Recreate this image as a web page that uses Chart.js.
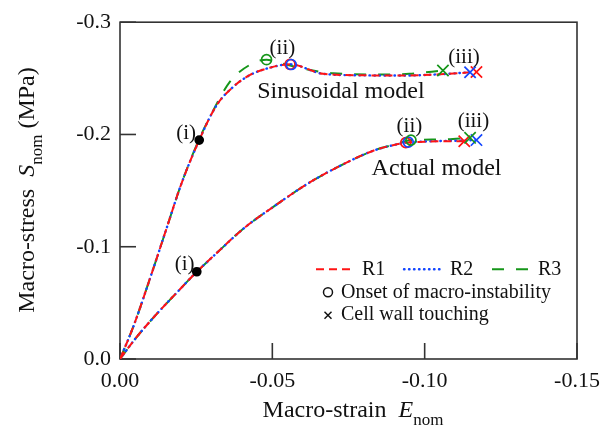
<!DOCTYPE html>
<html>
<head>
<meta charset="utf-8">
<script src="https://cdn.jsdelivr.net/npm/chart.js@4.4.1/dist/chart.umd.min.js"></script>
<style>
  html, body { margin: 0; padding: 0; background: #fff; }
  #wrap { width: 614px; height: 441px; }
</style>
</head>
<body>
<div id="wrap"><canvas id="chart" width="614" height="441"></canvas></div>
<script>
// curvas (deformacion / tension nominal, valores negativos = compresion)
const sinR1Strain = [0, -0.0044, -0.010, -0.015, -0.020, -0.026, -0.0317, -0.0372, -0.0427, -0.0492, -0.0558, -0.0667, -0.0797, -0.094, -0.105, -0.117];
const sinR1Stress = [0, -0.029, -0.073, -0.114, -0.155, -0.195, -0.226, -0.2425, -0.253, -0.2595, -0.2625, -0.254, -0.2527, -0.2525, -0.2536, -0.2557];
const sinR2Strain = [0, -0.0044, -0.010, -0.015, -0.020, -0.026, -0.0317, -0.0372, -0.0427, -0.0492, -0.0558, -0.0667, -0.0797, -0.094, -0.105, -0.1149];
const sinR2Stress = [0, -0.029, -0.073, -0.114, -0.155, -0.195, -0.226, -0.2425, -0.253, -0.2595, -0.2625, -0.254, -0.2527, -0.2525, -0.2536, -0.2554];
const sinR3Strain = [0, -0.0044, -0.010, -0.015, -0.020, -0.026, -0.0296, -0.0361, -0.0438, -0.0481, -0.0525, -0.058, -0.07, -0.085, -0.095, -0.106];
const sinR3Stress = [0, -0.029, -0.073, -0.114, -0.155, -0.196, -0.216, -0.247, -0.2637, -0.2666, -0.2637, -0.26, -0.2545, -0.2535, -0.254, -0.257];

const actR1Strain = [0, -0.005, -0.012, -0.0186, -0.0252, -0.0312, -0.0406, -0.0503, -0.0624, -0.0722, -0.0831, -0.0908, -0.0938, -0.1, -0.105, -0.113];
const actR1Stress = [0, -0.018, -0.040, -0.059, -0.0777, -0.093, -0.1163, -0.1355, -0.1575, -0.172, -0.1855, -0.1912, -0.1927, -0.1935, -0.194, -0.194];
const actR2Strain = [0, -0.005, -0.012, -0.0186, -0.0252, -0.0312, -0.0406, -0.0503, -0.0624, -0.0722, -0.0831, -0.0908, -0.0946, -0.1, -0.105, -0.111, -0.117];
const actR2Stress = [0, -0.018, -0.040, -0.059, -0.0777, -0.093, -0.1163, -0.1355, -0.1575, -0.172, -0.1855, -0.1912, -0.1932, -0.1937, -0.1942, -0.1945, -0.195];
const actR3Strain = [0, -0.005, -0.012, -0.0186, -0.0252, -0.0312, -0.0406, -0.0503, -0.0624, -0.0722, -0.0831, -0.0908, -0.0955, -0.105, -0.1149];
const actR3Stress = [0, -0.018, -0.040, -0.059, -0.0777, -0.093, -0.1163, -0.1355, -0.1575, -0.172, -0.1855, -0.1915, -0.195, -0.1955, -0.197];

// (ii) inicio de inestabilidad: [sinusoidal, actual]
const onsetStrainR1 = [-0.0558, -0.0938];
const onsetStressR1 = [-0.2625, -0.1927];
const onsetStrainR2 = [-0.0562, -0.0946];
const onsetStressR2 = [-0.2623, -0.1932];
const onsetStrainR3 = [-0.0481, -0.0955];
const onsetStressR3 = [-0.2666, -0.195];

// (iii) contacto de paredes
const touchStrainR1 = [-0.117, -0.113];
const touchStressR1 = [-0.2557, -0.194];
const touchStrainR2 = [-0.1149, -0.117];
const touchStressR2 = [-0.2554, -0.195];
const touchStrainR3 = [-0.106, -0.1149];
const touchStressR3 = [-0.257, -0.197];

// (i) puntos negros
const pointIStrain = [-0.026, -0.0252];
const pointIStress = [-0.195, -0.0777];

const xTicks = [0, -0.05, -0.10, -0.15];
const yTicks = [0, -0.1, -0.2, -0.3];

const RED = '#ff1414', BLUE = '#1446ff', GREEN = '#16961a';
const DASH = { R1: [8, 5], R2: [0.5, 4.5], R3: [12, 12] };
const SERIF = '"Liberation Serif", "Times New Roman", serif';

function pts(xs, ys) { return xs.map((v, i) => ({ x: v, y: ys[i] })); }

function curve(label, xs, ys, color, order) {
  return {
    label, data: pts(xs, ys), borderColor: color, borderWidth: label === 'R2' ? 2.4 : 2,
    borderDash: DASH[label], borderCapStyle: label === 'R2' ? 'round' : 'butt',
    pointRadius: 0, showLine: true, fill: false, cubicInterpolationMode: 'monotone', order
  };
}
function marks(xs, ys, color, style, r, fillColor) {
  return {
    data: pts(xs, ys), showLine: false, pointStyle: style, pointRadius: r,
    pointBorderColor: color, pointBackgroundColor: fillColor || 'rgba(0,0,0,0)',
    pointBorderWidth: 1.7, order: 0
  };
}

const datasets = [
  curve('R1', sinR1Strain, sinR1Stress, RED, 1),
  curve('R2', sinR2Strain, sinR2Stress, BLUE, 2),
  curve('R3', sinR3Strain, sinR3Stress, GREEN, 3),
  curve('R1', actR1Strain, actR1Stress, RED, 1),
  curve('R2', actR2Strain, actR2Stress, BLUE, 2),
  curve('R3', actR3Strain, actR3Stress, GREEN, 3),
  marks(onsetStrainR3, onsetStressR3, GREEN, 'circle', 5),
  marks(onsetStrainR2, onsetStressR2, BLUE, 'circle', 5),
  marks(onsetStrainR1, onsetStressR1, RED, 'circle', 5),
  marks(touchStrainR3, touchStressR3, GREEN, 'crossRot', 8),
  marks(touchStrainR2, touchStressR2, BLUE, 'crossRot', 8),
  marks(touchStrainR1, touchStressR1, RED, 'crossRot', 8),
  marks(pointIStrain, pointIStress, '#000', 'circle', 4, '#000')
];

// textos sobre el grafico (en coordenadas de datos)
const notes = [
  { t: '(i)', x: -0.0217, y: -0.2006, size: 21 },
  { t: '(ii)', x: -0.0533, y: -0.2762, size: 21 },
  { t: 'Sinusoidal model', x: -0.0725, y: -0.2384, size: 24 },
  { t: '(iii)', x: -0.1129, y: -0.2689, size: 21 },
  { t: '(i)', x: -0.0212, y: -0.0842, size: 21 },
  { t: '(ii)', x: -0.095, y: -0.2074, size: 21 },
  { t: '(iii)', x: -0.116, y: -0.2118, size: 21 },
  { t: 'Actual model', x: -0.1039, y: -0.1692, size: 24 }
];

function line(ctx, x1, y1, x2, y2) {
  ctx.beginPath(); ctx.moveTo(x1, y1); ctx.lineTo(x2, y2); ctx.stroke();
}

// dibuja texto con subindice; devuelve ancho
function richText(ctx, parts, x, y, draw) {
  let w = 0;
  for (const p of parts) {
    ctx.font = (p.italic ? 'italic ' : '') + p.size + 'px ' + SERIF;
    if (draw) ctx.fillText(p.t, x + w, y + (p.dy || 0));
    w += ctx.measureText(p.t).width;
  }
  return w;
}

const decor = {
  id: 'decor',
  beforeDatasetsDraw(chart) {
    const { ctx, chartArea: a, scales: { x, y } } = chart;
    ctx.save();
    ctx.strokeStyle = '#333';
    ctx.lineWidth = 1.6;
    ctx.strokeRect(a.left, a.top, a.right - a.left, a.bottom - a.top);
    x.ticks.forEach(t => { const p = x.getPixelForValue(t.value); line(ctx, p, a.bottom, p, a.bottom - 16); });
    y.ticks.forEach(t => { const p = y.getPixelForValue(t.value); line(ctx, a.left, p, a.left + 16, p); });
    ctx.restore();
  },
  afterDraw(chart) {
    const { ctx, chartArea: a, scales: { x, y } } = chart;
    ctx.save();
    ctx.fillStyle = '#111';
    ctx.textBaseline = 'middle';
    ctx.textAlign = 'center';
    notes.forEach(n => {
      ctx.font = n.size + 'px ' + SERIF;
      ctx.fillText(n.t, x.getPixelForValue(n.x), y.getPixelForValue(n.y));
    });

    // leyenda
    ctx.textAlign = 'left';
    const lx = a.left + 196, ly = a.top + 247;
    [[RED, 'R1', 2, 'butt'], [BLUE, 'R2', 2.4, 'round'], [GREEN, 'R3', 2, 'butt']].forEach((e, i) => {
      const sx = lx + i * 88;
      ctx.strokeStyle = e[0]; ctx.setLineDash(DASH[e[1]]);
      ctx.lineWidth = e[2]; ctx.lineCap = e[3];
      line(ctx, sx, ly, sx + 38, ly);
      ctx.setLineDash([]); ctx.lineCap = 'butt';
      ctx.font = '20px ' + SERIF;
      ctx.fillText(e[1], sx + 46, ly + 1);
    });
    ctx.strokeStyle = '#111'; ctx.lineWidth = 1.5;
    ctx.beginPath(); ctx.arc(lx + 12, ly + 23, 4.5, 0, Math.PI * 2); ctx.stroke();
    ctx.fillText('Onset of macro-instability', lx + 25, ly + 24);
    line(ctx, lx + 8.5, ly + 42.5, lx + 15.5, ly + 49.5);
    line(ctx, lx + 15.5, ly + 42.5, lx + 8.5, ly + 49.5);
    ctx.fillText('Cell wall touching', lx + 25, ly + 46);

    // titulos de ejes
    ctx.textBaseline = 'alphabetic';
    const xt = [
      { t: 'Macro-strain  ', size: 24 },
      { t: 'E', size: 24, italic: true },
      { t: 'nom', size: 17, dy: 8 }
    ];
    const xw = richText(ctx, xt, 0, 0, false);
    richText(ctx, xt, 353 - xw / 2, 417, true);

    const yt = [
      { t: 'Macro-stress  ', size: 24 },
      { t: 'S', size: 24, italic: true },
      { t: 'nom', size: 17, dy: 8 },
      { t: ' (MPa)', size: 24 }
    ];
    const yw = richText(ctx, yt, 0, 0, false);
    ctx.translate(34, 190);
    ctx.rotate(-Math.PI / 2);
    richText(ctx, yt, -yw / 2, 0, true);
    ctx.restore();
  }
};

new Chart(document.getElementById('chart'), {
  type: 'scatter',
  data: { datasets },
  plugins: [decor],
  options: {
    responsive: false,
    animation: false,
    layout: { padding: { top: 18, right: 37, left: 0, bottom: 0 } },
    plugins: { legend: { display: false }, tooltip: { enabled: false } },
    scales: {
      x: {
        type: 'linear', reverse: true, min: -0.15, max: 0,
        afterBuildTicks: s => { s.ticks = xTicks.map(v => ({ value: v })); },
        afterFit: s => { s.height = 82; },
        grid: { display: false, drawTicks: false },
        border: { display: false },
        ticks: {
          autoSkip: false, maxRotation: 0, padding: 9, color: '#111',
          font: { family: SERIF, size: 22 },
          callback: v => v.toFixed(2)
        }
      },
      y: {
        type: 'linear', reverse: true, min: -0.3, max: 0,
        afterBuildTicks: s => { s.ticks = yTicks.map(v => ({ value: v })); },
        afterFit: s => { s.width = 120; },
        grid: { display: false, drawTicks: false },
        border: { display: false },
        ticks: {
          autoSkip: false, padding: 9, color: '#111',
          font: { family: SERIF, size: 22 },
          callback: v => v.toFixed(1)
        }
      }
    }
  }
});
</script>
</body>
</html>
